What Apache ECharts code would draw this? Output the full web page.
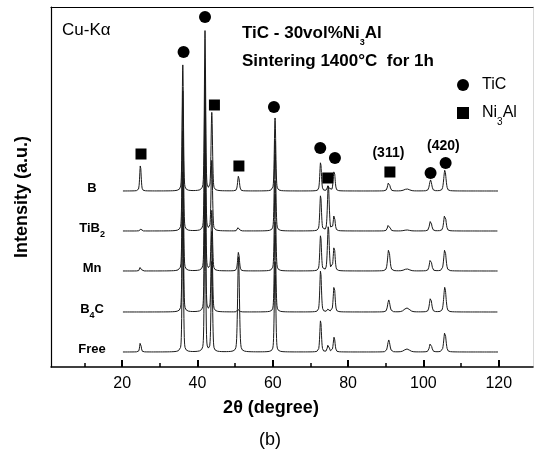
<!DOCTYPE html>
<html>
<head>
<meta charset="utf-8">
<script src="https://cdn.jsdelivr.net/npm/echarts@6/dist/echarts.min.js"></script>
<style>
  html, body { margin: 0; padding: 0; background: #fff; }
  #chart { width: 536px; height: 454px; }
</style>
</head>
<body>
<div id="chart"></div>
<script>
// Reflection positions (2θ, degrees) shared by all patterns
const peakPositions = [24.85, 36.1, 42.0, 43.8, 50.9, 60.6, 72.7, 74.75, 76.3, 90.8, 95.6, 101.9, 105.7];
// Peak widths (FWHM, degrees)
const peakWidths = [0.45, 0.4, 0.4, 0.45, 0.55, 0.45, 0.5, 0.55, 0.55, 0.7, 1.6, 0.7, 0.7];

// Patterns, top to bottom
const sampleNames = ['B', 'TiB2', 'Mn', 'B4C', 'Free'];
const sampleLabels = ['B', 'TiB{s|2}', 'Mn', 'B{s|4}C', 'Free'];
const baselines = [176, 136, 96, 55, 15];

// Peak intensities (a.u.) for each pattern, one value per reflection
const heightsB    = [26, 126, 160, 78, 15, 73, 29, 6, 21, 9, 2, 11, 21];
const heightsTiB2 = [2, 140, 160, 70, 4, 90, 36, 46, 16, 7, 1, 10, 17];
const heightsMn   = [4, 140, 160, 60, 19, 90, 36, 45, 25, 22, 2, 12, 22];
const heightsB4C  = [0, 140, 160, 80, 3, 90, 42, 3, 27, 12, 4, 14, 25];
const heightsFree = [10, 140, 160, 90, 95, 90, 32, 8, 15, 12, 3, 9, 20];
const heightTable = [heightsB, heightsTiB2, heightsMn, heightsB4C, heightsFree];

// Phase markers [2θ, intensity]
const ticMarkers = [[36.3, 315], [42.0, 350], [60.3, 260], [72.6, 219], [76.5, 209], [101.9, 194], [105.9, 204]];
const ni3alMarkers = [[25.0, 213], [44.5, 262], [51.0, 201], [74.6, 189], [91.1, 195]];
// Miller index labels [text, 2θ, intensity]
const planeLabels = [['(311)', 90.7, 214], ['(420)', 105.3, 221]];

// Axis ticks
const majorTicks = [20, 40, 60, 80, 100, 120];
const minorTicks = [10, 30, 50, 70, 90, 110];
const scanRange = [20.2, 119.8];
const scanStep = 0.05;

const FONT = '"Liberation Sans", Arial, Helvetica, sans-serif';
const X_MIN = 1.1, X_MAX = 129.1;

// Pseudo-Voigt profile summed over the reflection list
function pattern(base, heights) {
  const pts = [];
  const n = Math.round((scanRange[1] - scanRange[0]) / scanStep);
  for (let k = 0; k <= n; k++) {
    const x = scanRange[0] + k * scanStep;
    let y = base;
    for (let i = 0; i < peakPositions.length; i++) {
      const h = heights[i];
      if (!h) continue;
      const d = (x - peakPositions[i]) / (peakWidths[i] / 2);
      const lor = 1 / (1 + d * d);
      const gau = Math.exp(-Math.LN2 * d * d);
      y += h * (0.3 * lor + 0.7 * gau);
    }
    pts.push([+x.toFixed(3), +y.toFixed(2)]);
  }
  return pts;
}

const chart = echarts.init(document.getElementById('chart'), null, { renderer: 'canvas' });

const patternSeries = sampleNames.map((name, i) => ({
  name: name,
  type: 'line',
  data: pattern(baselines[i], heightTable[i]),
  showSymbol: false,
  symbol: 'none',
  lineStyle: { color: '#1a1a1a', width: 1 },
  z: 2,
  silent: true,
  animation: false
}));

const hidden = { color: 'rgba(0,0,0,0)', opacity: 0 };

const option = {
  animation: false,
  backgroundColor: '#fff',
  grid: { left: 51, right: 3, top: 7, bottom: 87, containLabel: false },
  legend: {
    orient: 'vertical',
    left: 452,
    top: 72,
    itemWidth: 12,
    itemHeight: 12,
    itemGap: 12,
    data: [
      { name: 'TiC', icon: 'circle' },
      { name: 'Ni3Al', icon: 'rect' }
    ],
    formatter: n => (n === 'Ni3Al' ? 'Ni{s|3}Al' : n),
    textStyle: {
      fontFamily: FONT, fontSize: 16, color: '#000', padding: [0, 0, 0, 8],
      rich: {
        s: { fontSize: 10, fontFamily: FONT, color: '#000', verticalAlign: 'bottom', padding: [0, 0, -6, 0] }
      }
    }
  },
  xAxis: [
    {
      type: 'value', min: X_MIN, max: X_MAX, position: 'bottom',
      axisLine: { onZero: false, lineStyle: { color: '#000', width: 1.5 } },
      axisTick: { inside: true, length: 7, customValues: majorTicks, lineStyle: { color: '#000', width: 2 } },
      axisLabel: { customValues: majorTicks, fontFamily: FONT, fontSize: 16, color: '#000', margin: 9 },
      splitLine: { show: false }
    },
    {
      type: 'value', min: X_MIN, max: X_MAX, position: 'bottom',
      axisLine: { show: false, onZero: false },
      axisTick: { inside: true, length: 4, customValues: minorTicks, lineStyle: { color: '#000', width: 1.5 } },
      axisLabel: { show: false },
      splitLine: { show: false }
    },
    {
      type: 'value', min: X_MIN, max: X_MAX, position: 'top',
      axisLine: { onZero: false, lineStyle: { color: '#000', width: 1.2 } },
      axisTick: { show: false }, axisLabel: { show: false }, splitLine: { show: false }
    }
  ],
  yAxis: [
    {
      type: 'value', min: 0, max: 360, position: 'left',
      axisLine: { show: true, onZero: false, lineStyle: { color: '#000', width: 1.2 } },
      axisTick: { show: false }, axisLabel: { show: false }, splitLine: { show: false }
    },
    {
      type: 'value', min: 0, max: 360, position: 'right',
      axisLine: { show: true, onZero: false, lineStyle: { color: '#d8d8d8', width: 1 } },
      axisTick: { show: false }, axisLabel: { show: false }, splitLine: { show: false }
    }
  ],
  series: [
    ...patternSeries,
    {
      name: 'TiC', type: 'scatter', symbol: 'circle', symbolSize: 12,
      itemStyle: { color: '#000', opacity: 1 }, data: ticMarkers, z: 5, silent: true
    },
    {
      name: 'Ni3Al', type: 'scatter', symbol: 'rect', symbolSize: 11,
      itemStyle: { color: '#000', opacity: 1 }, data: ni3alMarkers, z: 5, silent: true
    },
    {
      name: 'planes', type: 'scatter', symbol: 'circle', symbolSize: 1, silent: true, z: 6,
      itemStyle: hidden,
      data: planeLabels.map(p => ({ value: [p[1], p[2]], label: { formatter: p[0] } })),
      label: {
        show: true, position: 'inside', fontFamily: FONT, fontSize: 14, fontWeight: 'bold', color: '#000', opacity: 1
      }
    },
    {
      name: 'samples', type: 'scatter', symbol: 'circle', symbolSize: 1, silent: true, z: 6,
      itemStyle: hidden,
      data: sampleLabels.map((t, i) => ({ value: [12.0, baselines[i] + 3], label: { formatter: t } })),
      label: {
        show: true, position: 'inside', fontFamily: FONT, fontSize: 13, fontWeight: 'bold', color: '#000', opacity: 1,
        rich: {
          s: { fontSize: 9, fontWeight: 'bold', fontFamily: FONT, color: '#000', verticalAlign: 'bottom', padding: [0, 0, -5, 0] }
        }
      }
    }
  ],
  graphic: [
    {
      type: 'text', left: 62, top: 22, silent: true,
      style: { text: 'Cu-Kα', font: '17px ' + FONT, fill: '#000' }
    },
    {
      type: 'text', left: 242, top: 25, silent: true,
      style: {
        text: 'TiC - 30vol%Ni{s|3}Al', font: 'bold 17px ' + FONT, fill: '#000',
        rich: { s: { fontSize: 9, fontWeight: 'bold', fontFamily: FONT, fill: '#000', verticalAlign: 'bottom', padding: [0, 0, -5, 0] } }
      }
    },
    {
      type: 'text', left: 242, top: 53, silent: true,
      style: { text: 'Sintering 1400°C  for 1h', font: 'bold 17px ' + FONT, fill: '#000' }
    },
    {
      type: 'text', x: 22, y: 197, rotation: Math.PI / 2, silent: true,
      style: { text: 'Intensity (a.u.)', font: 'bold 18px ' + FONT, fill: '#000', align: 'center', verticalAlign: 'middle' }
    },
    {
      type: 'text', x: 271, y: 408, silent: true,
      style: { text: '2θ (degree)', font: 'bold 18px ' + FONT, fill: '#000', align: 'center', verticalAlign: 'middle' }
    },
    {
      type: 'text', x: 270, y: 440, silent: true,
      style: { text: '(b)', font: '18px ' + FONT, fill: '#000', align: 'center', verticalAlign: 'middle' }
    }
  ]
};

chart.setOption(option);
</script>
</body>
</html>
